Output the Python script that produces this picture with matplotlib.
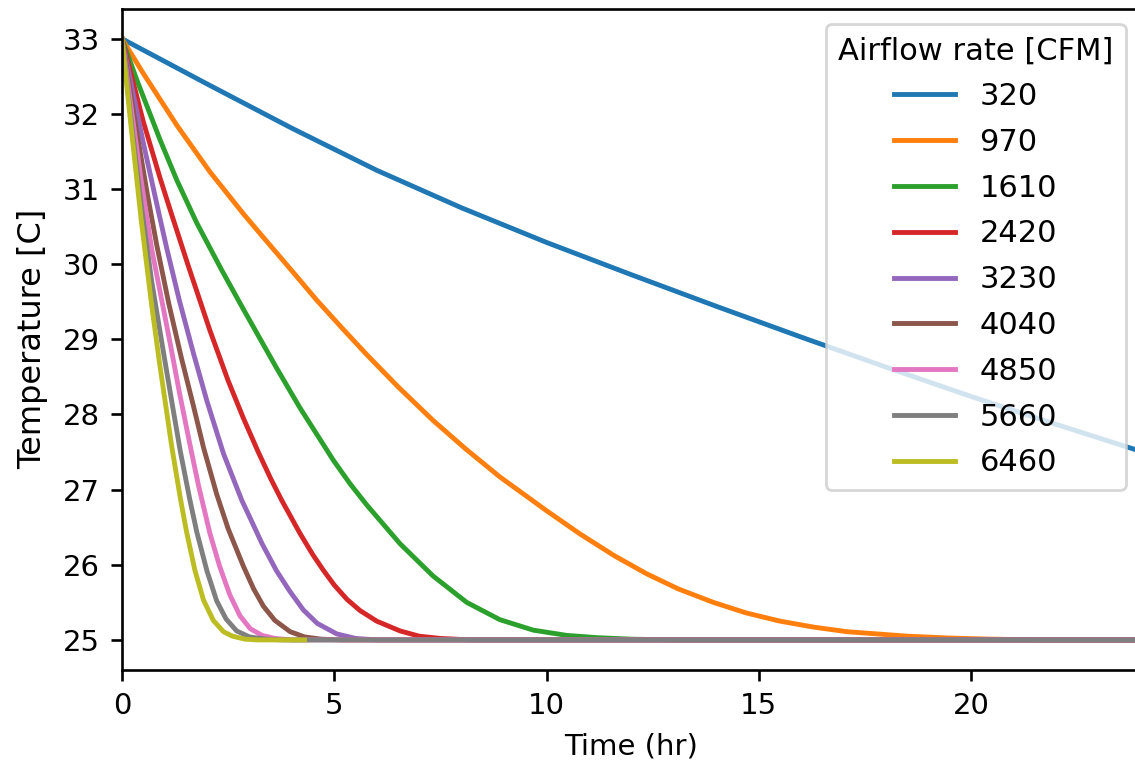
import matplotlib
matplotlib.use('Agg')
import matplotlib.pyplot as plt

# airflow rates (legend labels)
airflow = ['320', '970', '1610', '2420', '3230', '4040', '4850', '5660', '6460']

# time [hr] / temperature [C]
t_320 = [0, 2, 4, 6, 8, 10, 12, 14, 16, 18, 20, 22, 24]
T_320 = [33.0, 32.40, 31.81, 31.25, 30.75, 30.29, 29.86, 29.44, 29.03, 28.63, 28.24, 27.87, 27.51]

t_970 = [0, 0.5, 1.29, 2.07, 2.86, 3.4, 3.96, 4.59, 5.2, 5.76, 6.5, 7.33, 8.1, 8.9, 10.0, 10.79, 11.6,
         12.36, 13.1, 13.93, 14.7, 15.5, 16.3, 17.07, 18.5, 19.5, 20.5, 21.7, 24.0]
T_970 = [33.0, 32.54, 31.85, 31.23, 30.67, 30.31, 29.94, 29.52, 29.14, 28.80, 28.37, 27.92, 27.54, 27.17,
         26.72, 26.41, 26.12, 25.88, 25.68, 25.50, 25.36, 25.25, 25.17, 25.11, 25.05, 25.025, 25.01, 25.0, 25.0]

t_1610 = [0, 0.35, 0.9, 1.29, 1.76, 2.35, 2.86, 3.64, 4.19, 4.98, 5.37, 5.76, 6.55, 7.33, 8.12, 8.9, 9.69,
          10.48, 11.2, 12.0, 13.0, 24.0]
T_1610 = [33.0, 32.45, 31.65, 31.12, 30.55, 29.92, 29.40, 28.62, 28.09, 27.39, 27.08, 26.80, 26.28, 25.85,
          25.50, 25.27, 25.13, 25.06, 25.03, 25.01, 25.0, 25.0]

t_2420 = [0, 0.25, 0.5, 0.9, 1.17, 1.56, 2.07, 2.5, 2.86, 3.21, 3.5, 3.76, 4.19, 4.5, 4.74, 5.0, 5.3, 5.61,
          6.0, 6.55, 7.0, 7.5, 8.2, 24.0]
T_2420 = [33.0, 32.45, 31.90, 31.14, 30.66, 29.98, 29.12, 28.45, 27.95, 27.50, 27.15, 26.86, 26.42, 26.13,
          25.93, 25.73, 25.54, 25.39, 25.25, 25.12, 25.05, 25.02, 25.0, 25.0]

t_3230 = [0, 0.25, 0.5, 0.8, 1.05, 1.35, 1.68, 2.0, 2.39, 2.82, 3.02, 3.3, 3.64, 3.95, 4.27, 4.6, 5.06,
          5.5, 6.0, 24.0]
T_3230 = [33.0, 32.30, 31.62, 30.85, 30.22, 29.52, 28.82, 28.18, 27.48, 26.86, 26.62, 26.28, 25.92, 25.65,
          25.40, 25.22, 25.08, 25.02, 25.0, 25.0]

t_4040 = [0, 0.3, 0.6, 0.82, 1.1, 1.4, 1.68, 1.92, 2.23, 2.5, 2.86, 3.1, 3.33, 3.6, 3.96, 4.3, 4.7, 5.2, 24.0]
T_4040 = [33.0, 31.92, 30.92, 30.25, 29.48, 28.75, 28.12, 27.56, 26.94, 26.48, 25.98, 25.68, 25.45, 25.26,
          25.11, 25.04, 25.01, 25.0, 25.0]

t_4850 = [0, 0.2, 0.45, 0.7, 0.95, 1.13, 1.35, 1.6, 1.8, 2.07, 2.3, 2.54, 2.78, 3.02, 3.3, 3.6, 4.0, 24.0]
T_4850 = [33.0, 32.15, 31.12, 30.20, 29.48, 28.96, 28.30, 27.60, 27.06, 26.42, 25.98, 25.60, 25.32, 25.15,
          25.06, 25.02, 25.0, 25.0]

t_5660 = [0, 0.2, 0.45, 0.7, 0.97, 1.17, 1.37, 1.6, 1.76, 2.0, 2.23, 2.45, 2.7, 3.0, 3.4, 3.8, 24.0]
T_5660 = [33.0, 31.98, 30.80, 29.77, 28.85, 28.18, 27.52, 26.86, 26.44, 25.92, 25.52, 25.28, 25.12, 25.04,
          25.01, 25.0, 25.0]

t_6460 = [0, 0.2, 0.45, 0.7, 0.88, 1.17, 1.37, 1.52, 1.72, 1.92, 2.15, 2.39, 2.6, 2.9, 3.2, 4.3]
T_6460 = [33.0, 31.90, 30.60, 29.45, 28.70, 27.58, 26.90, 26.44, 25.92, 25.53, 25.26, 25.11, 25.05, 25.01,
          25.0, 25.0]

times = [t_320, t_970, t_1610, t_2420, t_3230, t_4040, t_4850, t_5660, t_6460]
temps = [T_320, T_970, T_1610, T_2420, T_3230, T_4040, T_4850, T_5660, T_6460]

plt.rcParams['font.size'] = 22
plt.rcParams['axes.linewidth'] = 1.9
for ax_ in ['xtick', 'ytick']:
    plt.rcParams[ax_ + '.major.size'] = 8.2
    plt.rcParams[ax_ + '.major.width'] = 1.9
    plt.rcParams[ax_ + '.major.pad'] = 8
    plt.rcParams[ax_ + '.labelsize'] = 21

fig = plt.figure(figsize=(11.35, 7.65), dpi=100)
ax = fig.add_axes([0.1075, 0.1242, 0.8976, 0.8644])

for t, T, lab in zip(times, temps, airflow):
    ax.plot(t, T, label=lab, linewidth=3.5)

ax.set_xlim(0, 24)
ax.set_ylim(24.6, 33.4)
ax.set_xticks([0, 5, 10, 15, 20])
ax.set_yticks(range(25, 34))
ax.set_xlabel('Time (hr)', fontsize=21, labelpad=9)
ax.set_ylabel('Temperature [C]', fontsize=23, labelpad=10)

leg = ax.legend(title='Airflow rate [CFM]', loc='upper right', labelspacing=0.55)
leg.get_frame().set_linewidth(2)

fig.savefig('out.png', dpi=100)
